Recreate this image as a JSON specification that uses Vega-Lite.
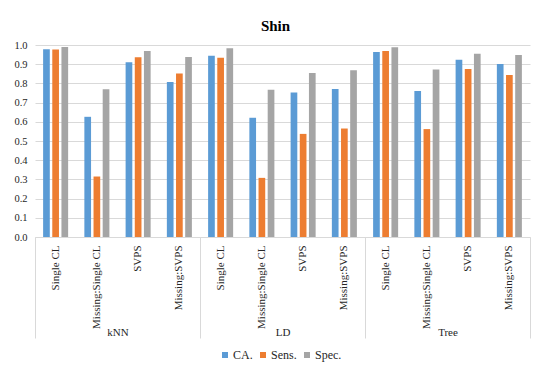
{
  "$schema": "https://vega.github.io/schema/vega-lite/v6.json",
  "width": 495,
  "height": 192,
  "autosize": {"type": "none"},
  "padding": {"left": 35, "top": 45, "right": 20, "bottom": 142},
  "background": "white",
  "title": {"text": "Shin", "font": "Liberation Serif", "fontSize": 15, "fontWeight": "bold", "color": "#000000", "anchor": "middle", "offset": 6, "dx": -7},
  "config": {
    "view": {"stroke": null},
    "axis": {"labelFont": "Liberation Serif", "labelColor": "#262626", "titleFont": "Liberation Serif"},
    "legend": {"labelFont": "Liberation Serif"}
  },
  "data": {"values": [
    {"group": "kNN", "cat": "Single CL", "series": "CA.", "value": 0.978},
    {"group": "kNN", "cat": "Single CL", "series": "Sens.", "value": 0.976},
    {"group": "kNN", "cat": "Single CL", "series": "Spec.", "value": 0.99},
    {"group": "kNN", "cat": "Missing:Single CL", "series": "CA.", "value": 0.626},
    {"group": "kNN", "cat": "Missing:Single CL", "series": "Sens.", "value": 0.315},
    {"group": "kNN", "cat": "Missing:Single CL", "series": "Spec.", "value": 0.769},
    {"group": "kNN", "cat": "SVPS", "series": "CA.", "value": 0.91},
    {"group": "kNN", "cat": "SVPS", "series": "Sens.", "value": 0.936},
    {"group": "kNN", "cat": "SVPS", "series": "Spec.", "value": 0.969},
    {"group": "kNN", "cat": "Missing:SVPS", "series": "CA.", "value": 0.807},
    {"group": "kNN", "cat": "Missing:SVPS", "series": "Sens.", "value": 0.852},
    {"group": "kNN", "cat": "Missing:SVPS", "series": "Spec.", "value": 0.937},
    {"group": "LD", "cat": "Single CL", "series": "CA.", "value": 0.944},
    {"group": "LD", "cat": "Single CL", "series": "Sens.", "value": 0.934},
    {"group": "LD", "cat": "Single CL", "series": "Spec.", "value": 0.983},
    {"group": "LD", "cat": "Missing:Single CL", "series": "CA.", "value": 0.621},
    {"group": "LD", "cat": "Missing:Single CL", "series": "Sens.", "value": 0.308},
    {"group": "LD", "cat": "Missing:Single CL", "series": "Spec.", "value": 0.767},
    {"group": "LD", "cat": "SVPS", "series": "CA.", "value": 0.753},
    {"group": "LD", "cat": "SVPS", "series": "Sens.", "value": 0.537},
    {"group": "LD", "cat": "SVPS", "series": "Spec.", "value": 0.854},
    {"group": "LD", "cat": "Missing:SVPS", "series": "CA.", "value": 0.771},
    {"group": "LD", "cat": "Missing:SVPS", "series": "Sens.", "value": 0.565},
    {"group": "LD", "cat": "Missing:SVPS", "series": "Spec.", "value": 0.868},
    {"group": "Tree", "cat": "Single CL", "series": "CA.", "value": 0.963},
    {"group": "Tree", "cat": "Single CL", "series": "Sens.", "value": 0.969},
    {"group": "Tree", "cat": "Single CL", "series": "Spec.", "value": 0.988},
    {"group": "Tree", "cat": "Missing:Single CL", "series": "CA.", "value": 0.76},
    {"group": "Tree", "cat": "Missing:Single CL", "series": "Sens.", "value": 0.562},
    {"group": "Tree", "cat": "Missing:Single CL", "series": "Spec.", "value": 0.873},
    {"group": "Tree", "cat": "SVPS", "series": "CA.", "value": 0.923},
    {"group": "Tree", "cat": "SVPS", "series": "Sens.", "value": 0.875},
    {"group": "Tree", "cat": "SVPS", "series": "Spec.", "value": 0.955},
    {"group": "Tree", "cat": "Missing:SVPS", "series": "CA.", "value": 0.901},
    {"group": "Tree", "cat": "Missing:SVPS", "series": "Sens.", "value": 0.844},
    {"group": "Tree", "cat": "Missing:SVPS", "series": "Spec.", "value": 0.948}
  ]},
  "transform": [{"calculate": "datum.group + '|' + datum.cat", "as": "key"}],
  "layer": [
    {
      "mark": {"type": "bar"},
      "encoding": {
        "x": {"field": "key", "type": "nominal", "sort": null,
          "scale": {"paddingInner": 0, "paddingOuter": 0},
          "axis": {"title": null, "orient": "bottom", "labelExpr": "split(datum.label, '|')[1]", "labelAngle": -90, "ticks": false, "labelPadding": 8, "labelFont": "Liberation Serif", "labelFontSize": 11, "labelColor": "#262626", "domainColor": "#d9d9d9", "grid": false}},
        "xOffset": {"field": "series", "type": "nominal", "sort": ["CA.", "Sens.", "Spec."],
          "scale": {"paddingInner": 0.27, "paddingOuter": 0.885}},
        "y": {"field": "value", "type": "quantitative",
          "scale": {"domain": [0, 1]},
          "axis": {"title": null, "values": [0, 0.1, 0.2, 0.3, 0.4, 0.5, 0.6, 0.7, 0.8, 0.9, 1.0], "format": ".1f", "domain": false, "ticks": false, "labelPadding": 8, "labelFont": "Liberation Serif", "labelFontSize": 10.5, "labelColor": "#262626", "labelOverlap": false, "gridColor": "#d9d9d9", "grid": true}},
        "color": {"field": "series", "type": "nominal", "sort": ["CA.", "Sens.", "Spec."],
          "scale": {"domain": ["CA.", "Sens.", "Spec."], "range": ["#5B9BD5", "#ED7D31", "#A5A5A5"]},
          "legend": {"title": null, "orient": "none", "direction": "horizontal", "legendX": 184, "legendY": 304, "symbolType": "square", "symbolSize": 36, "labelOffset": 2, "labelFont": "Liberation Serif", "labelFontSize": 12, "labelColor": "#262626", "columnPadding": 4, "symbolStrokeWidth": 0}}
      }
    },
    {
      "mark": {"type": "bar", "opacity": 0},
      "encoding": {
        "x": {"field": "group", "type": "nominal", "sort": null,
          "scale": {"paddingInner": 0, "paddingOuter": 0},
          "axis": {"title": null, "orient": "bottom", "labelAngle": 0, "tickBand": "extent", "tickSize": 101, "tickColor": "#d9d9d9", "domain": false, "labelPadding": -12, "labelFont": "Liberation Serif", "labelFontSize": 11, "labelColor": "#262626", "grid": false}},
        "y": {"field": "value", "type": "quantitative", "stack": null,
          "axis": {"title": null, "values": [0, 0.1, 0.2, 0.3, 0.4, 0.5, 0.6, 0.7, 0.8, 0.9, 1.0], "format": ".1f", "domain": false, "ticks": false, "labelPadding": 8, "labelFont": "Liberation Serif", "labelFontSize": 10.5, "labelColor": "#262626", "labelOverlap": false, "gridColor": "#d9d9d9", "grid": true}}
      }
    }
  ],
  "resolve": {"scale": {"x": "independent"}, "axis": {"x": "independent"}}
}
